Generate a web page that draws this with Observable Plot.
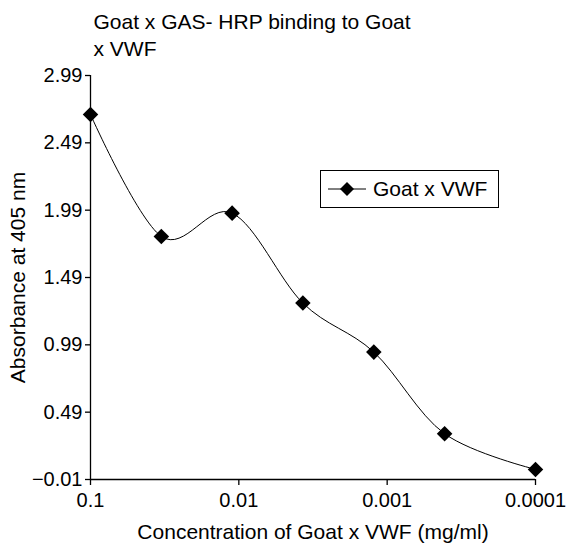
<!DOCTYPE html>
<html>
<head>
<meta charset="utf-8">
<script src="https://cdn.jsdelivr.net/npm/d3@7"></script>
<script src="https://cdn.jsdelivr.net/npm/@observablehq/plot@0.6"></script>
<style>
  html, body { margin: 0; padding: 0; background: #fff; }
  #wrap { position: relative; width: 566px; height: 544px; font-family: "Liberation Sans", Arial, Helvetica, sans-serif; color: #000; }
  #legend { position: absolute; left: 320px; top: 170px; width: 177px; height: 36px; border: 1px solid #000; background: #fff;
            display: flex; align-items: center; font-size: 21px; box-sizing: content-box; }
  #legend svg { display: block; margin-left: 6px; margin-right: 6px; }
</style>
</head>
<body>
<div id="wrap"></div>
<script>
// ---- data ----
const concentrations = [0.1, 0.0333, 0.0111, 0.0037, 0.00123, 0.00041, 0.0001];
const absorbance = [2.70, 1.795, 1.968, 1.30, 0.936, 0.33, 0.065];
const seriesName = "Goat x VWF";
const xTicks = [0.1, 0.01, 0.001, 0.0001];
const yTicks = [-0.01, 0.49, 0.99, 1.49, 1.99, 2.49, 2.99];
const titleLines = ["Goat x GAS- HRP binding to Goat", "x VWF"];
const xLabel = "Concentration of Goat x VWF (mg/ml)";
const yLabel = "Absorbance at 405 nm";

const data = concentrations.map((c, i) => ({conc: c, abs: absorbance[i]}));
const font = "'Liberation Sans', Arial, Helvetica, sans-serif";

const chart = Plot.plot({
  width: 566,
  height: 544,
  marginLeft: 90,
  marginRight: 31,
  marginTop: 75,
  marginBottom: 65,
  style: { fontFamily: font, fontSize: "20px", color: "#000", background: "#fff", overflow: "visible" },
  x: { type: "log", domain: [0.1, 0.0001] },
  y: { domain: [-0.01, 2.99] },
  marks: [
    Plot.axisX({ ticks: xTicks, tickFormat: d => String(d), tickSize: 6, tickPadding: 7, label: null, fontSize: 20, strokeWidth: 1.3 }),
    Plot.axisY({ ticks: yTicks, tickFormat: d3.format(".2f"), tickSize: 5, tickPadding: 3, label: null, fontSize: 20, strokeWidth: 1.3 }),
    Plot.ruleX([0.1], { stroke: "#000", strokeWidth: 1.3 }),
    Plot.ruleY([-0.01], { stroke: "#000", strokeWidth: 1.3 }),
    Plot.line(data, { x: "conc", y: "abs", curve: "cardinal", stroke: "#000", strokeWidth: 1 }),
    Plot.dot(data, { x: "conc", y: "abs", symbol: "diamond2", r: 7, fill: "#000", stroke: "none" }),
    Plot.text([titleLines.join("\n")], { frameAnchor: "top-left", textAnchor: "start", lineAnchor: "top", dx: 3, dy: -66, lineHeight: 1.3, fontSize: 21, fill: "#000" }),
    Plot.text([xLabel], { frameAnchor: "bottom", textAnchor: "middle", lineAnchor: "middle", dy: 53, fontSize: 21, fill: "#000" }),
    Plot.text([yLabel], { frameAnchor: "left", textAnchor: "middle", lineAnchor: "middle", rotate: -90, dx: -72, fontSize: 21, fill: "#000" })
  ]
});

const wrap = document.getElementById("wrap");
wrap.appendChild(chart);

// legend
const legend = document.createElement("div");
legend.id = "legend";
legend.innerHTML = `<svg width="40" height="20" viewBox="0 0 40 20"><line x1="1" y1="10" x2="39" y2="10" stroke="#000" stroke-width="1"/><path d="M20,3 L27,10 L20,17 L13,10 Z" fill="#000"/></svg><span>${seriesName}</span>`;
wrap.appendChild(legend);
</script>
</body>
</html>
